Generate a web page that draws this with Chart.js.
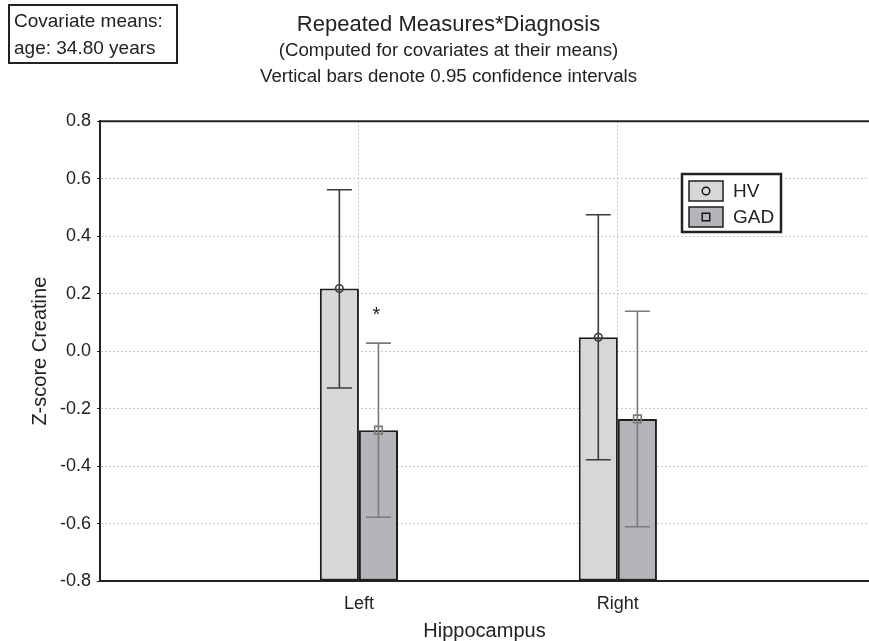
<!DOCTYPE html>
<html lang="en">
<head>
<meta charset="UTF-8">
<title>Repeated Measures*Diagnosis</title>
<script src="https://cdn.jsdelivr.net/npm/chart.js"></script>
<style>
  html, body { margin: 0; padding: 0; background: #fff; overflow: hidden; }
  .chart-container { position: relative; width: 869px; height: 641px; }
</style>
</head>
<body>
<div class="chart-container"><canvas id="chart"></canvas></div>
<script>
// Values
const categories = ['Left', 'Right'];
const categoryPositions = [1, 2];
const seriesNames = ['HV', 'GAD'];
const hvMeans = [0.218, 0.048];
const hvLower = [-0.128, -0.378];
const hvUpper = [0.562, 0.475];
const gadMeans = [-0.275, -0.236];
const gadLower = [-0.578, -0.611];
const gadUpper = [0.028, 0.139];
const gadSignificance = ['*', ''];
const yTicks = [-0.8, -0.6, -0.4, -0.2, 0, 0.2, 0.4, 0.6, 0.8];
const covariateNote = ['Covariate means:', 'age: 34.80 years'];

const FONT = "'Liberation Sans', Arial, Helvetica, sans-serif";
const INK = '#222';
const BAR_BORDER = '#1e1e1e';
const STYLES = [
  { fill: '#d6d7d9', whisker: '#3c3c3c', marker: 'circle' },
  { fill: '#b4b5b8', whisker: '#7a7a7a', marker: 'square' },
];

Chart.defaults.font.family = FONT;
Chart.defaults.color = INK;

function drawMarker(ctx, kind, x, y) {
  ctx.beginPath();
  if (kind === 'circle') {
    ctx.arc(x, y, 3.8, 0, Math.PI * 2);
  } else {
    ctx.rect(x - 3.8, y - 3.8, 7.6, 7.6);
  }
  ctx.stroke();
}

// whiskers, markers on the means and the significance star
const errorBarPlugin = {
  id: 'errorBars',
  afterDatasetsDraw(chart) {
    const ctx = chart.ctx;
    const y = chart.scales.y;
    ctx.save();
    chart.data.datasets.forEach((ds, i) => {
      const meta = chart.getDatasetMeta(i);
      meta.data.forEach((bar, j) => {
        const x = bar.x;
        const top = y.getPixelForValue(ds.ciUpper[j]);
        const bottom = y.getPixelForValue(ds.ciLower[j]);
        const mid = y.getPixelForValue(ds.data[j].y);
        ctx.strokeStyle = ds.whiskerColor;
        ctx.lineWidth = 1.6;
        ctx.beginPath();
        ctx.moveTo(x, top); ctx.lineTo(x, bottom);
        ctx.moveTo(x - 12.5, top); ctx.lineTo(x + 12.5, top);
        ctx.moveTo(x - 12.5, bottom); ctx.lineTo(x + 12.5, bottom);
        ctx.stroke();
        drawMarker(ctx, ds.markerKind, x, mid);
        const sig = ds.significance && ds.significance[j];
        if (sig) {
          ctx.fillStyle = INK;
          ctx.font = '20px ' + FONT;
          ctx.textAlign = 'center';
          ctx.textBaseline = 'middle';
          ctx.fillText(sig, x - 2, top - 28);
        }
      });
    });
    ctx.restore();
  }
};

// frame top line, legend box and covariate note
const decorPlugin = {
  id: 'decor',
  afterDraw(chart) {
    const ctx = chart.ctx;
    const area = chart.chartArea;
    ctx.save();
    ctx.strokeStyle = INK;
    ctx.lineWidth = 2;
    ctx.beginPath();
    ctx.moveTo(area.left, area.top);
    ctx.lineTo(area.right, area.top);
    ctx.stroke();

    // legend
    const lx = 682, ly = 174, lw = 99, lh = 58;
    ctx.fillStyle = '#fff';
    ctx.fillRect(lx, ly, lw, lh);
    ctx.lineWidth = 2.5;
    ctx.strokeStyle = INK;
    ctx.strokeRect(lx, ly, lw, lh);
    ctx.font = '19px ' + FONT;
    ctx.textBaseline = 'middle';
    ctx.textAlign = 'left';
    seriesNames.forEach((name, i) => {
      const sy = ly + 7 + i * 26;
      ctx.fillStyle = STYLES[i].fill;
      ctx.fillRect(lx + 7, sy, 34, 20);
      ctx.lineWidth = 1.5;
      ctx.strokeStyle = BAR_BORDER;
      ctx.strokeRect(lx + 7, sy, 34, 20);
      ctx.lineWidth = 1.4;
      ctx.strokeStyle = '#111';
      drawMarker(ctx, STYLES[i].marker, lx + 24, sy + 10);
      ctx.fillStyle = INK;
      ctx.fillText(name, lx + 51, sy + 11);
    });

    // covariate box
    ctx.fillStyle = '#fff';
    ctx.fillRect(9, 5, 168, 58);
    ctx.lineWidth = 2;
    ctx.strokeStyle = INK;
    ctx.strokeRect(9, 5, 168, 58);
    ctx.fillStyle = INK;
    ctx.font = '19px ' + FONT;
    ctx.textBaseline = 'alphabetic';
    covariateNote.forEach((line, i) => ctx.fillText(line, 14, 27 + i * 27));
    ctx.restore();
  }
};

function makeDataset(label, means, lower, upper, style, significance) {
  return {
    label,
    data: categoryPositions.map((x, i) => ({ x, y: means[i] })),
    base: -0.8,
    backgroundColor: style.fill,
    borderColor: BAR_BORDER,
    borderWidth: 2,
    borderSkipped: false,
    categoryPercentage: 0.302,
    barPercentage: 1,
    ciLower: lower,
    ciUpper: upper,
    whiskerColor: style.whisker,
    markerKind: style.marker,
    significance,
  };
}

new Chart(document.getElementById('chart'), {
  type: 'bar',
  data: {
    datasets: [
      makeDataset(seriesNames[0], hvMeans, hvLower, hvUpper, STYLES[0]),
      makeDataset(seriesNames[1], gadMeans, gadLower, gadUpper, STYLES[1], gadSignificance),
    ]
  },
  options: {
    responsive: true,
    maintainAspectRatio: false,
    animation: false,
    layout: { padding: { left: 28, right: 0, top: 0, bottom: 0 } },
    plugins: {
      legend: { display: false },
      tooltip: { enabled: false },
      title: {
        display: true,
        text: 'Repeated Measures*Diagnosis',
        font: { size: 22, weight: 'normal', lineHeight: 1.1 },
        color: INK,
        padding: { top: 13, bottom: 0 }
      },
      subtitle: {
        display: true,
        text: ['(Computed for covariates at their means)', 'Vertical bars denote 0.95 confidence intervals'],
        font: { size: 18.7, lineHeight: 1.42 },
        color: INK,
        padding: { top: 0, bottom: 31 }
      }
    },
    scales: {
      x: {
        type: 'linear',
        min: 0,
        max: 2.97,
        offset: false,
        afterBuildTicks: axis => { axis.ticks = categoryPositions.map(v => ({ value: v })); },
        afterFit: axis => { axis.height = 60; },
        ticks: {
          font: { size: 18 },
          color: INK,
          padding: 12,
          maxRotation: 0,
          callback: value => categories[categoryPositions.indexOf(value)]
        },
        grid: { color: '#c9c9c9', lineWidth: 1, drawTicks: false, offset: false },
        border: { display: true, color: INK, width: 2, dash: [2, 2] },
        title: {
          display: true,
          text: 'Hippocampus',
          font: { size: 20, lineHeight: 1 },
          color: INK,
          padding: { top: 6, bottom: 0 }
        }
      },
      y: {
        min: -0.8,
        max: 0.8,
        afterBuildTicks: axis => { axis.ticks = yTicks.map(v => ({ value: v })); },
        afterFit: axis => { axis.width = 72; },
        ticks: {
          font: { size: 18 },
          color: INK,
          padding: 6,
          callback: value => value.toFixed(1)
        },
        grid: {
          color: '#c9c9c9',
          lineWidth: 1,
          drawTicks: true,
          tickLength: 3,
          tickColor: INK,
          tickBorderDash: []
        },
        border: { display: true, color: INK, width: 2, dash: [2, 2] },
        title: {
          display: true,
          text: 'Z-score Creatine',
          font: { size: 20 },
          color: INK,
          padding: { top: 0, bottom: 4 }
        }
      }
    }
  },
  plugins: [errorBarPlugin, decorPlugin]
});
</script>
</body>
</html>
